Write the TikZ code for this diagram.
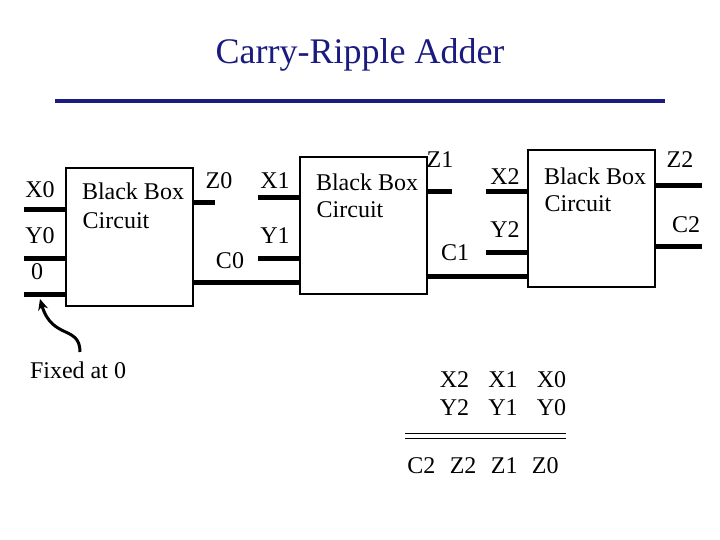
\documentclass[tikz,border=0pt]{standalone}
\usepackage{fontspec}
\setmainfont{Liberation Serif}
\usetikzlibrary{arrows.meta}
\definecolor{navy}{RGB}{26,26,128}
\tikzset{
  box/.style={draw,line width=2.5pt},
  wire/.style={line width=5pt},
  lbl/.style={font=\fontsize{24}{28}\selectfont,inner sep=0pt},
}
\begin{document}
\begin{tikzpicture}[x=1pt,y=-1pt]
      \useasboundingbox (0,0) rectangle (720,540);
      \node[text=navy,font=\fontsize{36}{40}\selectfont] (title) at (360,55) {Carry-Ripple Adder};
      \draw [navy,line width=4pt] (55,101) -- (665,101);

      % first box
      \draw [box] (66,168) rectangle (193,306);
      \node[lbl] (bb0) at (133,191) {Black Box};
      \node[lbl] (ci0) at (116,221) {Circuit};
      \draw [wire] (24,210) -- (66,210);
      \draw [wire] (24,258) -- (66,258);
      \draw [wire] (24,294) -- (66,294);
      \draw [wire] (193,203) -- (215,203);
      \draw [wire] (193,282) -- (300,282);
      \node[lbl] (x0) at (40,190) {X0};
      \node[lbl] (y0) at (40,236) {Y0};
      \node[lbl] (zero) at (37,272) {0};
      \node[lbl] (z0) at (219,181) {Z0};
      \node[lbl] (c0) at (230,261) {C0};

      % second box
      \draw [box] (300,157) rectangle (427,294);
      \node[lbl] (bb1) at (367,182) {Black Box};
      \node[lbl] (ci1) at (350,210) {Circuit};
      \draw [wire] (258,198) -- (300,198);
      \draw [wire] (258,258) -- (300,258);
      \draw [wire] (427,192) -- (452,192);
      \draw [wire] (427,276) -- (528,276);
      \node[lbl] (x1) at (275,181) {X1};
      \node[lbl] (y1) at (275,236) {Y1};
      \node[lbl] (z1) at (440,160) {Z1};
      \node[lbl] (c1) at (455,253) {C1};

      % third box
      \draw [box] (528,150) rectangle (655,287);
      \node[lbl] (bb2) at (595,176) {Black Box};
      \node[lbl] (ci2) at (578,204) {Circuit};
      \draw [wire] (486,192) -- (528,192);
      \draw [wire] (486,252) -- (528,252);
      \draw [wire] (655,186) -- (702,186);
      \draw [wire] (655,246) -- (702,246);
      \node[lbl] (x2) at (505,177) {X2};
      \node[lbl] (y2) at (505,230) {Y2};
      \node[lbl] (z2) at (680,160) {Z2};
      \node[lbl] (c2) at (686,225) {C2};

      % fixed input
      \node[lbl] (fixed) at (78,370) {Fixed at 0};
      \coordinate (pin) at (40,299);
      \draw [line width=3pt,-{Stealth[length=11pt,width=10pt]}] (80,352) .. controls (80,325) and (52,340) .. (pin);

      % sum
      \node[lbl] (xs) at (503,380) {X2\hspace{0.8em}X1\hspace{0.8em}X0};
      \node[lbl] (ys) at (503,408) {Y2\hspace{0.8em}Y1\hspace{0.8em}Y0};
      \draw [line width=0.8pt] (405,433) -- (566,433);
      \draw [line width=0.8pt] (405,438) -- (566,438);
      \node[lbl] (zs) at (483,466) {C2\hspace{0.6em}Z2\hspace{0.6em}Z1\hspace{0.6em}Z0};
\end{tikzpicture}
\end{document}
